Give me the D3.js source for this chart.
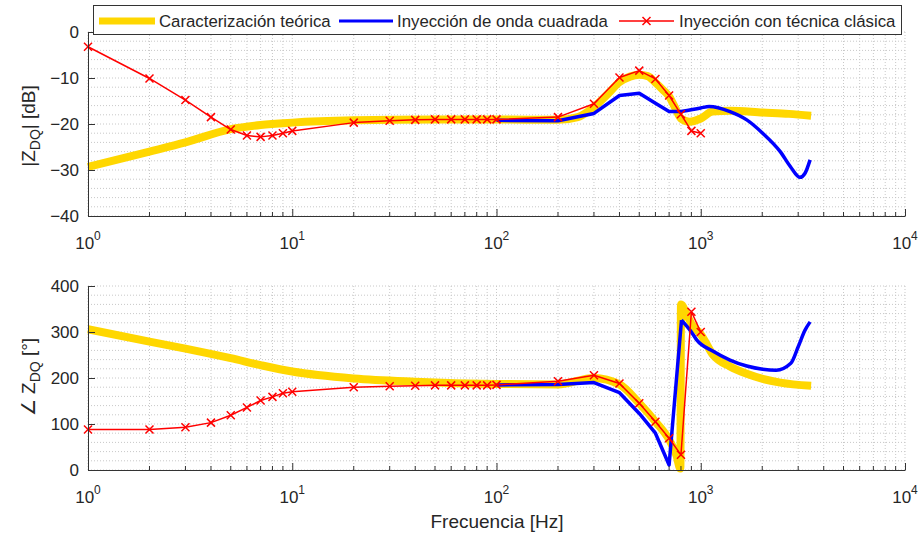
<!DOCTYPE html>
<html>
<head>
<meta charset="utf-8">
<script src="https://cdn.jsdelivr.net/npm/d3@7/dist/d3.min.js"></script>
<style>
  body { margin: 0; background: #fff; }
  text { font-family: "Liberation Sans", Arial, sans-serif; fill: #262626; }
  .grid line { stroke: #c8c8c8; stroke-width: 1; stroke-dasharray: 1,2; }
  .axis path, .axis line { stroke: #333; }
</style>
</head>
<body>
<svg id="chart" width="924" height="540"></svg>
<script>
// magnitude panel
var magFreqClassic = [1,2,3,4,5,6,7,8,9,10,20,30,40,50,60,70,80,90,100,200,300,400,500,600,700,800,900,1000];
var magClassic = [-3.2,-10.1,-14.8,-18.5,-21.2,-22.5,-22.8,-22.5,-22.0,-21.5,-19.7,-19.3,-19.1,-19.0,-19.0,-19.0,-19.0,-19.0,-19.0,-18.5,-15.6,-9.9,-8.4,-10.2,-13.8,-17.9,-21.5,-22.0];

var magFreqTheory = [1,2,3,5,7,10,20,50,100,200,250,300,350,400,450,500,550,600,650,700,750,800,880,1000,1140,1390,2010,2700,3470];
var magTheory = [-29.3,-26.0,-24.0,-21.1,-20.2,-19.7,-19.2,-19.0,-19.0,-19.1,-18.5,-16.3,-13.5,-10.9,-9.7,-9.3,-9.6,-11.0,-12.5,-14.0,-16.5,-18.8,-19.5,-18.8,-17.3,-17.1,-17.5,-17.8,-18.2];

var magFreqSquare = [100,200,300,400,500,600,700,800,1000,1100,1390,1680,2010,2450,2760,3060,3240,3430];
var magSquare = [-19.2,-19.3,-17.7,-13.8,-13.3,-15.5,-17.3,-17.3,-16.5,-16.2,-17.3,-19.1,-22.0,-26.0,-29.4,-31.6,-30.7,-27.8];

// phase panel
var phFreqClassic = magFreqClassic;
var phClassic = [88,88,93,103,119,136,151,159,167,170,180,182,183,184,184,184,184,184,185,193,206,188,145,105,69,33,344,300];

var phFreqTheory = [1,2,3,5,7,10,20,40,100,200,300,400,500,600,700,760,795,800,850,900,1000,1150,1390,1680,2010,2450,3470];
var phTheory = [306,279,264,243,228,214,199,192,187,186,200,186,145,105,66,32,3,360,340,318,295,250,225,209,198,190,183];

var phFreqSquare = [100,200,300,400,500,600,700,805,900,955,1150,1390,1680,2010,2340,2760,3000,3240,3430];
var phSquare = [185,186,190,168,123,80,11,326,300,283,258,239,226,219,217,232,268,304,322];

var yTicksMag = [-40,-30,-20,-10,0];
var yTicksPh = [0,100,200,300,400];
var xDecades = [1,10,100,1000,10000];

var legendLabels = ['Caracterización teórica', 'Inyección de onda cuadrada', 'Inyección con técnica clásica'];

var svg = d3.select('#chart');

var x = d3.scaleLog().domain([1, 1e4]).range([88, 905]);
var yMag = d3.scaleLinear().domain([-40, 0]).range([216, 32]);
var yPh = d3.scaleLinear().domain([0, 400]).range([470, 286]);

var minorX = [];
[1,10,100,1000].forEach(d => { for (var k = 2; k <= 9; k++) minorX.push(d * k); });

var colors = { theory: '#ffd700', square: '#0000ff', classic: '#ff0000' };

function panel(y, yTicks, series) {
  var y0 = y.range()[0], y1 = y.range()[1];
  var g = svg.append('g');

  // grid (major + minor, all dotted)
  var grid = g.append('g').attr('class', 'grid');
  var yMinor = d3.range(y.domain()[0], y.domain()[1] + 0.001, (yTicks[1] - yTicks[0]) / 5);
  grid.selectAll('.gy').data(yMinor).enter().append('line')
    .attr('x1', x.range()[0]).attr('x2', x.range()[1])
    .attr('y1', d => y(d)).attr('y2', d => y(d));
  grid.selectAll('.gx').data(xDecades.concat(minorX)).enter().append('line')
    .attr('x1', d => x(d)).attr('x2', d => x(d))
    .attr('y1', y0).attr('y2', y1);

  // series; smoothFrom: linear segments below that frequency, smooth curve above
  var lin = d3.line().x(d => x(d[0])).y(d => y(d[1]));
  var smooth = d3.line().x(d => x(d[0])).y(d => y(d[1])).curve(d3.curveMonotoneX);
  series.forEach(s => {
    var pts = s.f.map((f, i) => [f, s.v[i]]);
    var a = pts.filter(d => d[0] <= s.smoothFrom), b = pts.filter(d => d[0] >= s.smoothFrom);
    var d = (a.length > 1 ? lin(a) : '') + (b.length > 1 ? smooth(b) : '');
    g.append('path')
      .attr('fill', 'none')
      .attr('stroke', s.color)
      .attr('stroke-width', s.width)
      .attr('stroke-linejoin', 'round')
      .attr('d', d);
    if (s.marker) {
      g.selectAll(null).data(pts).enter().append('path')
        .attr('d', d => { var px = x(d[0]), py = y(d[1]), r = 4;
          return 'M' + (px - r) + ',' + (py - r) + 'L' + (px + r) + ',' + (py + r) +
                 'M' + (px - r) + ',' + (py + r) + 'L' + (px + r) + ',' + (py - r); })
        .attr('stroke', s.color).attr('stroke-width', 1.5);
    }
  });

  // axes
  var ay = g.append('g').attr('class', 'axis')
    .attr('transform', 'translate(' + x.range()[0] + ',0)')
    .call(d3.axisLeft(y).tickValues(yTicks).tickSize(-7).tickSizeOuter(0).tickPadding(9));
  ay.selectAll('text').style('font-size', '17px').style('fill', '#262626')
    .style('font-family', '"Liberation Sans", Arial, sans-serif');

  var ax = g.append('g').attr('class', 'axis')
    .attr('transform', 'translate(0,' + y0 + ')')
    .call(d3.axisBottom(x).tickValues(xDecades).tickSize(-7).tickSizeOuter(0).tickFormat(''));
  ax.selectAll('.minor').data(minorX).enter().append('line')
    .attr('x1', d => x(d)).attr('x2', d => x(d))
    .attr('y1', 0).attr('y2', -4).attr('stroke', '#333');

  xDecades.forEach((d, i) => {
    var t = g.append('text').attr('x', x(d)).attr('y', y0 + 33)
      .attr('text-anchor', 'middle').style('font-size', '17px');
    t.append('tspan').text('10');
    t.append('tspan').attr('dy', -9).style('font-size', '12px').text(String(i));
  });
}

panel(yMag, yTicksMag, [
  { f: magFreqTheory, v: magTheory, color: colors.theory, width: 8, smoothFrom: 0 },
  { f: magFreqSquare, v: magSquare, color: colors.square, width: 3.5, smoothFrom: 800 },
  { f: magFreqClassic, v: magClassic, color: colors.classic, width: 1.5, smoothFrom: Infinity, marker: true }
]);

panel(yPh, yTicksPh, [
  { f: phFreqTheory, v: phTheory, color: colors.theory, width: 8, smoothFrom: 0 },
  { f: phFreqSquare, v: phSquare, color: colors.square, width: 3.5, smoothFrom: 805 },
  { f: phFreqClassic, v: phClassic, color: colors.classic, width: 1.5, smoothFrom: Infinity, marker: true }
]);

// y labels
var l1 = svg.append('text').attr('transform', 'translate(35,126) rotate(-90)')
  .attr('text-anchor', 'middle').style('font-size', '19px');
l1.append('tspan').text('|Z');
l1.append('tspan').attr('dy', 5).style('font-size', '14px').text('DQ');
l1.append('tspan').attr('dy', -5).text('| [dB]');

var l2 = svg.append('text').attr('transform', 'translate(35,377) rotate(-90)')
  .attr('text-anchor', 'middle').style('font-size', '19px');
l2.append('tspan').text('∠ Z');
l2.append('tspan').attr('dy', 5).style('font-size', '14px').text('DQ');
l2.append('tspan').attr('dy', -5).text(' [°]');

svg.append('text').attr('x', 497).attr('y', 528).attr('text-anchor', 'middle')
  .style('font-size', '19px').text('Frecuencia [Hz]');

// legend
var lg = svg.append('g');
lg.append('rect').attr('x', 93.5).attr('y', 5.5).attr('width', 808).attr('height', 29)
  .attr('fill', '#fff').attr('stroke', '#333');
var items = [
  { x0: 99, x1: 155, tx: 159, color: colors.theory, width: 7 },
  { x0: 339, x1: 393, tx: 397, color: colors.square, width: 3 },
  { x0: 619, x1: 674, tx: 679, color: colors.classic, width: 1.5, marker: true }
];
items.forEach((it, i) => {
  lg.append('line').attr('x1', it.x0).attr('x2', it.x1).attr('y1', 21).attr('y2', 21)
    .attr('stroke', it.color).attr('stroke-width', it.width);
  if (it.marker) {
    var cx = (it.x0 + it.x1) / 2, r = 4;
    lg.append('path').attr('d', 'M' + (cx - r) + ',' + (21 - r) + 'L' + (cx + r) + ',' + (21 + r) +
      'M' + (cx - r) + ',' + (21 + r) + 'L' + (cx + r) + ',' + (21 - r))
      .attr('stroke', it.color).attr('stroke-width', 1.5);
  }
  lg.append('text').attr('x', it.tx).attr('y', 27).style('font-size', '16.8px').text(legendLabels[i]);
});
</script>
</body>
</html>
